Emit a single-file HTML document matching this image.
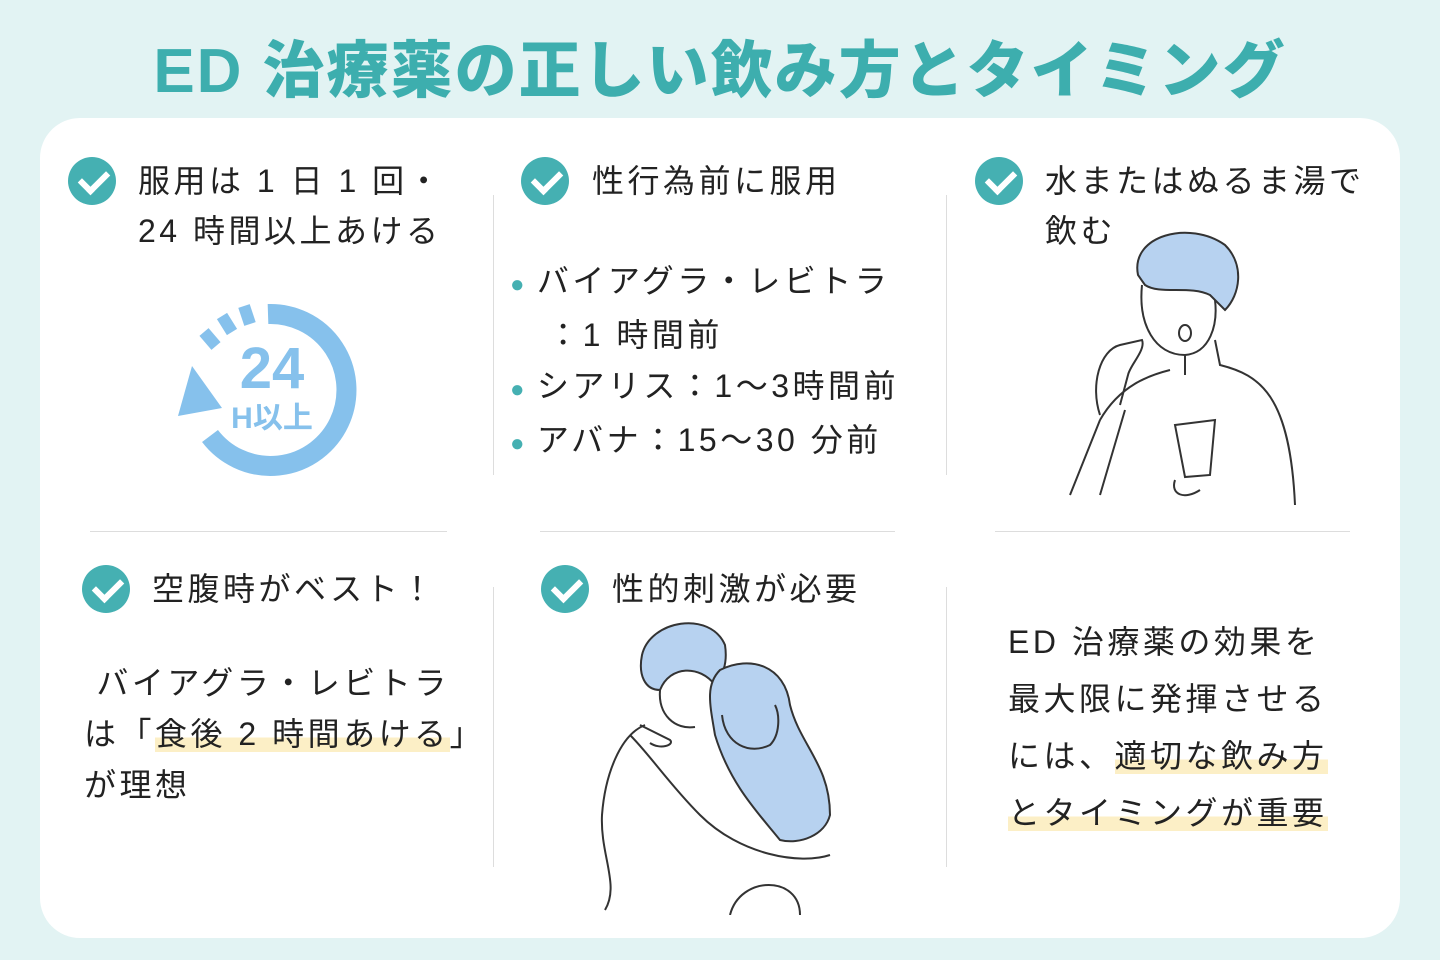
<!DOCTYPE html>
<html><head><meta charset="utf-8"><style>
*{margin:0;padding:0;box-sizing:border-box}
body{width:1440px;height:960px;background:#e2f3f3;font-family:"Liberation Sans","Noto Sans CJK JP",sans-serif;position:relative;overflow:hidden;color:#222}
.t{position:absolute;white-space:nowrap;letter-spacing:3.5px}
h1{position:absolute;left:0;width:1440px;top:20px;text-align:center;font-size:62px;font-weight:900;color:#3daeae;letter-spacing:2px}
.card{position:absolute;left:40px;top:118px;width:1360px;height:820px;background:#fff;border-radius:40px}
.vl{position:absolute;width:1px;background:#ddd}
.hl{position:absolute;height:1px;background:#ddd}
.ck{position:absolute;width:48px;height:48px;border-radius:50%;background:#45b0b2}
.ck:after{content:"";position:absolute;width:22px;height:12px;border-left:6px solid #fff;border-bottom:6px solid #fff;transform:rotate(-45deg);top:13px;left:12px}
.h{font-size:32px;line-height:50px}
.b{font-size:32px;line-height:51px}
.dot{color:#45b0b2;font-size:24px;letter-spacing:0}
.hi{background:linear-gradient(transparent 60%,#fcefc6 60%)}
</style></head><body>
<h1>ED 治療薬の正しい飲み方とタイミング</h1>
<div class="card"></div>
<div class="vl" style="left:493px;top:195px;height:280px"></div>
<div class="vl" style="left:946px;top:195px;height:280px"></div>
<div class="vl" style="left:493px;top:587px;height:280px"></div>
<div class="vl" style="left:946px;top:587px;height:280px"></div>
<div class="hl" style="left:90px;top:531px;width:357px"></div>
<div class="hl" style="left:540px;top:531px;width:355px"></div>
<div class="hl" style="left:995px;top:531px;width:355px"></div>

<div class="ck" style="left:68px;top:157px"></div>
<div class="t h" style="left:138px;top:156px">服用は 1 日 1 回・<br>24 時間以上あける</div>
<svg style="position:absolute;left:170px;top:290px" width="200" height="200" viewBox="0 0 200 200">
<path d="M98 24 A76 76 0 1 1 40 146" fill="none" stroke="#86c1ec" stroke-width="20"/>
<polygon points="22,76 8,126 52,118" fill="#86c1ec"/>
<g stroke="#86c1ec" stroke-width="12"><line x1="74" y1="16" x2="80" y2="34"/><line x1="52" y1="26" x2="62" y2="42"/><line x1="34" y1="42" x2="46" y2="56"/></g>
<text x="102" y="98" text-anchor="middle" font-size="58" font-weight="bold" fill="#86c1ec" font-family="Liberation Sans">24</text>
<text x="102" y="138" text-anchor="middle" font-size="30" font-weight="bold" fill="#86c1ec" font-family="Liberation Sans,Noto Sans CJK JP">H以上</text>
</svg>

<div class="ck" style="left:521px;top:157px"></div>
<div class="t h" style="left:592px;top:156px">性行為前に服用</div>
<div class="t b" style="left:510px;top:256px"><span class="dot">●</span> バイアグラ・レビトラ<br>&nbsp;&nbsp;&nbsp;：1 時間前<br><span class="dot">●</span> シアリス：1～3時間前<br><span class="dot">●</span> アバナ：15～30 分前</div>

<div class="ck" style="left:975px;top:157px"></div>
<div class="t h" style="left:1045px;top:156px">水またはぬるま湯で<br>飲む</div>
<svg style="position:absolute;left:1060px;top:225px" width="260" height="290" viewBox="0 0 260 290" fill="none" stroke="#333" stroke-width="2">
<path d="M78 50 C70 10 130 -5 165 20 C185 40 180 70 165 85 L150 70 C130 60 100 70 85 60 Z" fill="#b7d2f0"/>
<path d="M82 60 C78 100 95 130 125 130 C150 128 158 100 155 75"/>
<path d="M125 130 L125 150 M155 115 L160 140 C200 150 230 170 235 280"/>
<path d="M40 195 C60 160 90 150 110 145 M40 195 L10 270 M65 185 L40 270"/>
<path d="M40 190 C30 160 40 125 60 120 L82 115 C86 125 70 140 68 150 L60 180"/>
<ellipse cx="125" cy="108" rx="6" ry="8"/>
<path d="M115 200 L155 195 L150 250 L125 252 Z"/><path d="M115 255 C110 270 125 275 140 265"/>
</svg>

<div class="ck" style="left:82px;top:565px"></div>
<div class="t h" style="left:152px;top:564px">空腹時がベスト！</div>
<div class="t b" style="left:84px;top:658px">&nbsp;バイアグラ・レビトラ<br>は「<span class="hi">食後 2 時間あける</span>」<br>が理想</div>

<div class="ck" style="left:541px;top:565px"></div>
<div class="t h" style="left:612px;top:564px">性的刺激が必要</div>
<svg style="position:absolute;left:600px;top:615px" width="240" height="300" viewBox="0 0 240 300" fill="none" stroke="#333" stroke-width="2">
<path d="M42 40 C50 5 110 -5 125 30 C128 50 122 60 115 70 C100 50 70 50 60 75 C45 75 38 60 42 40Z" fill="#b7d2f0"/>
<path d="M60 75 C58 100 75 115 95 112"/>
<path d="M120 55 C150 40 185 50 190 90 C200 130 230 150 230 200 C225 220 200 230 180 225 C160 200 130 170 115 120 C110 90 105 70 120 55Z" fill="#b7d2f0"/>
<path d="M122 100 C125 130 150 140 170 130 C180 120 180 100 175 90"/>
<path d="M45 110 C20 120 5 160 2 200 C0 240 20 270 5 295 M100 200 C140 240 200 250 230 240 M130 300 C140 260 200 260 200 300 M30 120 C50 140 70 170 100 200"/>
<path d="M40 110 L70 125 C75 130 60 135 50 128"/>
</svg>

<div class="t" style="left:1008px;top:614px;font-size:32px;line-height:57px">ED 治療薬の効果を<br>最大限に発揮させる<br>には、<span class="hi">適切な飲み方</span><br><span class="hi">とタイミングが重要</span></div>
</body></html>
